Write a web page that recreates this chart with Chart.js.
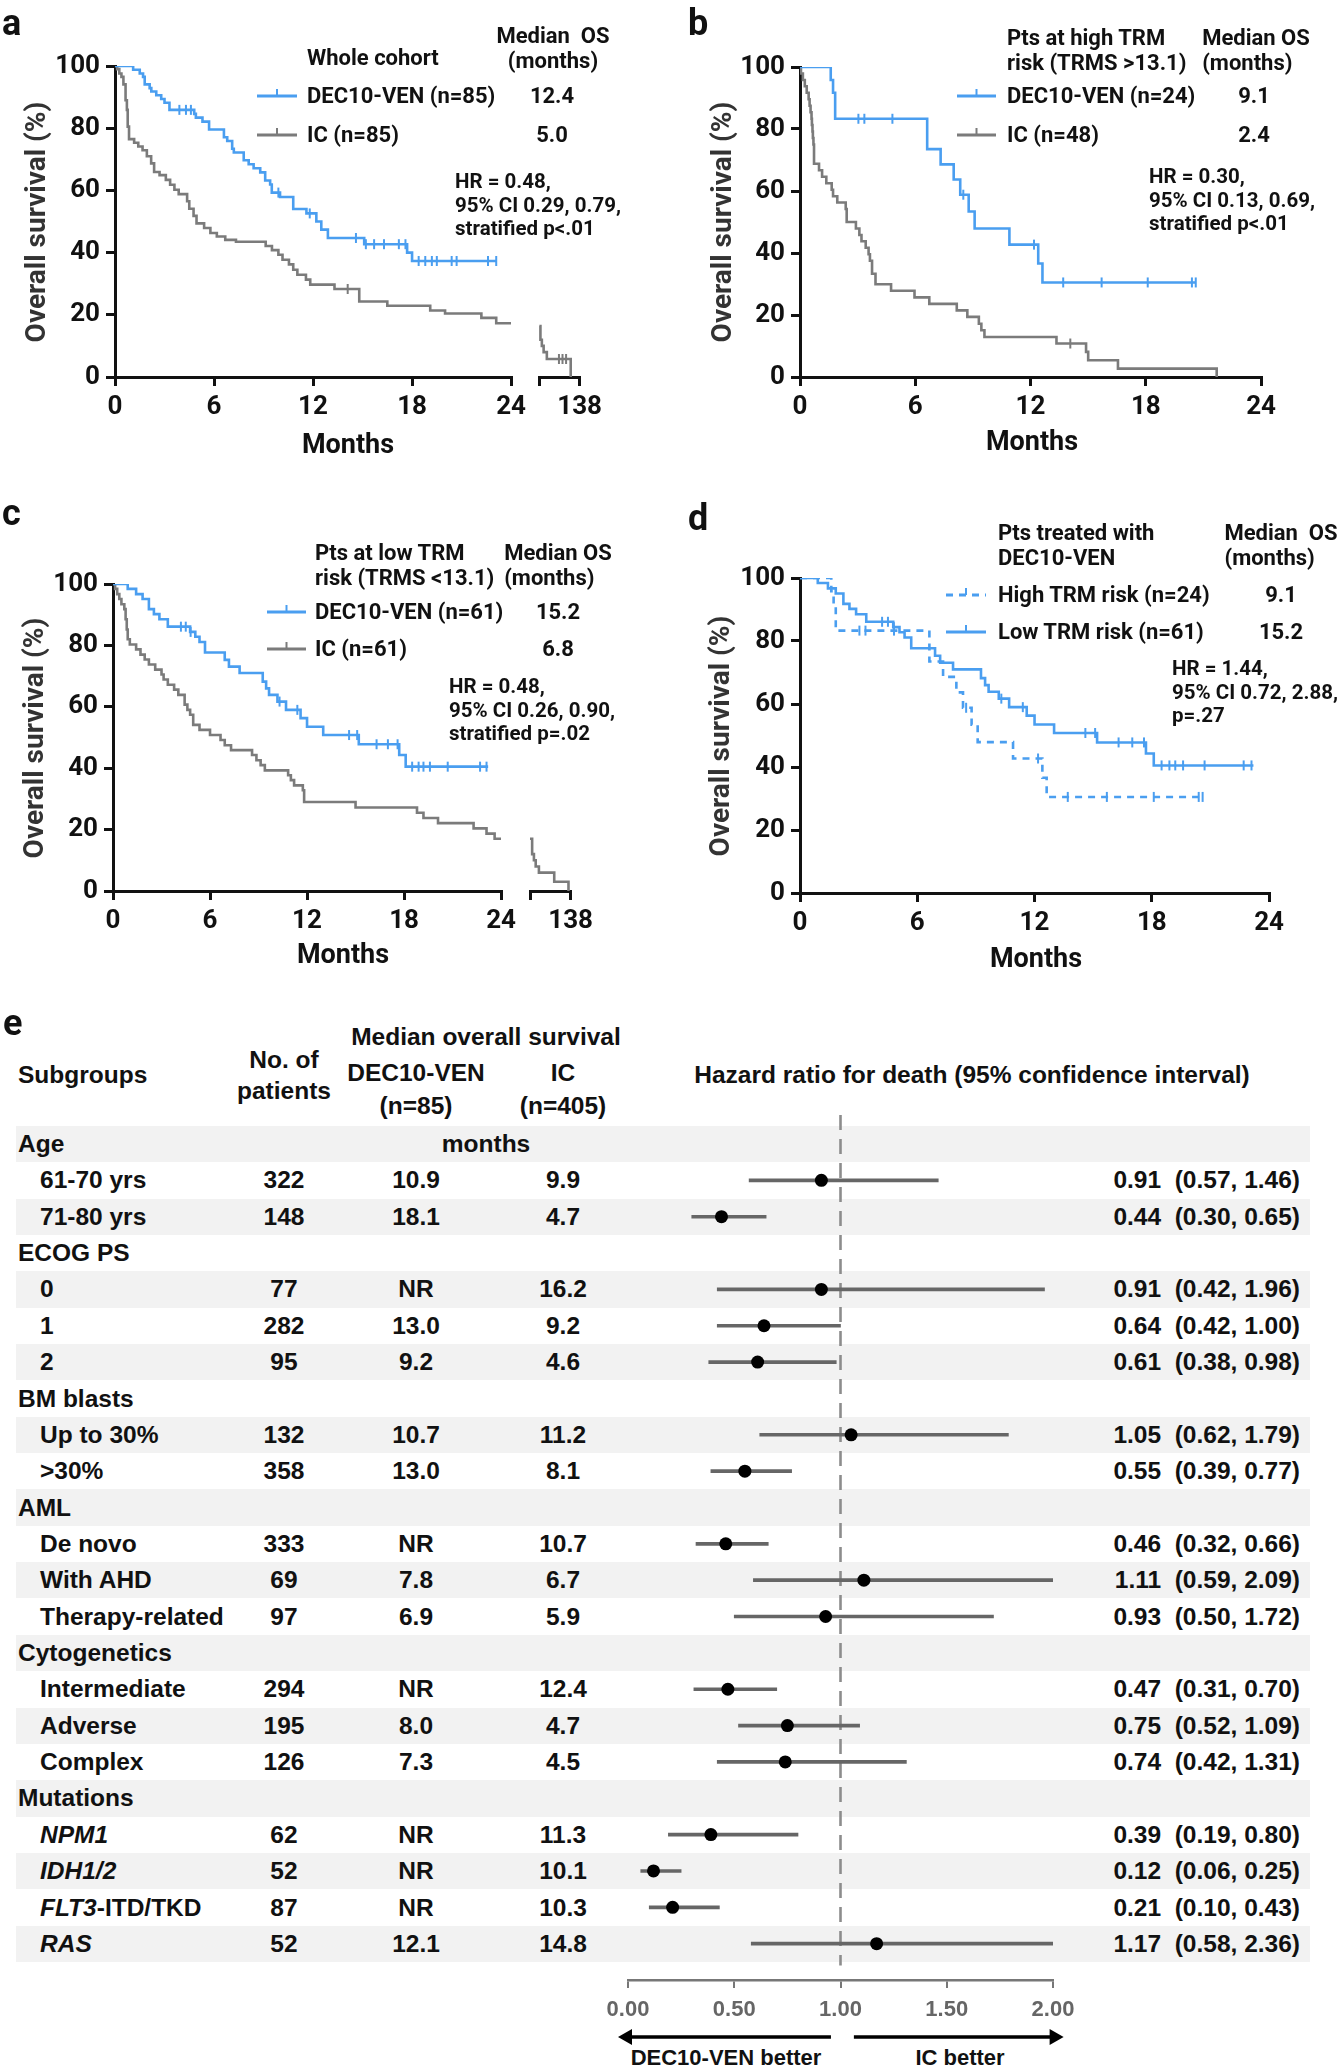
<!DOCTYPE html>
<html>
<head>
<meta charset="utf-8">
<title>DEC10-VEN vs IC survival</title>
<script src="https://cdn.jsdelivr.net/npm/chart.js@4.4.1/dist/chart.umd.min.js"></script>
<style>
  body { margin: 0; background: #fff; }
  #stage { position: relative; width: 1342px; height: 2070px; overflow: hidden; background: #fff;
           font-family: Roboto, "Liberation Sans", Arial, sans-serif; color: #111; }
  .t { position: absolute; white-space: pre; line-height: 1.15; }
  .lt { font-size: 36px; font-weight: 700; }
  .km { font-size: 22px; font-weight: 700; }
  .hr { font-size: 20.5px; font-weight: 700; }
  .mo { font-size: 27px; font-weight: 700; }
  .yt { font-size: 28px; font-weight: 700; color: #333; }
  .fp { font-family: "Liberation Sans", Arial, sans-serif; font-size: 24.5px; font-weight: 700; color: #111; }
  .ab { font-family: "Liberation Sans", Arial, sans-serif; font-size: 22px; font-weight: 700; color: #111; }
  canvas { position: absolute; }
</style>
</head>
<body>
<div id="stage"></div>
<script>
// ---- KM curves: [months, survival %]
const decAll = [[0,100],[1.1,98.8],[1.5,97.6],[1.7,96.5],[1.8,94.1],[2.1,92.9],[2.2,91.8],[2.5,90.6],[2.8,89.4],[3.0,88.2],[3.3,85.9],[4.8,84.6],[4.9,83.4],[5.3,82.1],[5.7,79.6],[6.6,77.1],[6.8,75.9],[7.1,73.4],[7.2,72.2],[7.8,69.7],[8.1,68.4],[8.4,67.1],[8.8,65.8],[9.1,63.2],[9.4,61.9],[9.5,59.3],[10.0,57.9],[10.8,54.0],[11.6,52.6],[12.2,50.0],[12.5,47.4],[12.9,44.7],[15.1,42.7],[17.7,40.0],[18.0,37.3],[23.1,37.3]];
const decAllCens = [3.9, 4.3, 4.6, 9.9, 11.8, 14.6, 15.2, 15.7, 16.3, 17.2, 17.6, 18.4, 18.8, 19.2, 19.5, 20.4, 20.7, 22.6, 23.1];
const icAll = [[0,100],[0.13,99],[0.26,97.6],[0.39,96.5],[0.51,94.1],[0.64,89],[0.72,85.9],[0.77,80.5],[0.85,76.5],[1.16,75.3],[1.41,74.1],[1.67,72.9],[1.93,71.0],[2.19,68.7],[2.37,65.9],[2.7,64.9],[3.08,63.4],[3.34,61.8],[3.6,60.2],[3.86,58.8],[4.37,56.5],[4.5,54.1],[4.76,51.8],[4.94,49.4],[5.4,47.9],[5.78,46.3],[6.17,45.2],[6.68,44.1],[7.33,43.5],[9.13,42.1],[9.51,40.8],[9.9,39.3],[10.15,37.7],[10.54,36.2],[10.8,34.5],[11.05,32.9],[11.57,31.3],[11.83,29.7],[13.3,28.3],[14.8,24.3],[16.5,22.9],[19.1,21.4],[20.0,20.4],[22.2,19.0],[23.1,17.3],[24,17.3]];
const icAllCens = [14.1];
const icAllTail = [[25,16.4],[28,12],[32,10],[37,8],[46,5.8],[113,0]];
const icAllTailCens = [80, 90, 100];

const decHigh = [[0,100],[1.6,95.8],[1.72,91.7],[1.83,83.3],[6.62,73.5],[7.32,68.6],[8.0,63.7],[8.34,58.8],[8.78,53.4],[9.09,47.9],[10.9,42.7],[12.4,36.6],[12.62,30.5],[20.6,30.5]];
const decHighCens = [3.04, 3.35, 4.81, 8.5, 12.18, 13.7, 15.7, 18.1, 20.4, 20.6];
const icHigh = [[0,100],[0.05,97.9],[0.15,95.8],[0.25,93.8],[0.35,91.7],[0.45,89.6],[0.5,87.5],[0.55,85.4],[0.6,83.3],[0.62,81.3],[0.65,79.2],[0.67,77.1],[0.7,75.0],[0.73,68.8],[0.99,66.7],[1.15,64.6],[1.37,62.5],[1.65,60.4],[1.72,58.3],[1.94,56.3],[2.38,54.2],[2.43,50.0],[2.91,47.9],[3.09,45.8],[3.2,43.8],[3.42,41.7],[3.57,39.6],[3.64,37.5],[3.75,33.3],[3.93,29.9],[4.74,27.8],[5.96,25.7],[6.73,23.6],[8.16,21.5],[8.71,19.4],[9.31,17.2],[9.44,15.1],[9.6,12.9],[13.35,10.8],[14.89,8.1],[15.0,5.4],[16.55,2.7],[21.69,0]];
const icHighCens = [14.07];

const decLow = [[0,100],[0.91,98.4],[1.43,96.7],[1.83,95.1],[2.22,91.8],[2.53,90.2],[2.87,88.5],[3.39,86.1],[4.77,84.4],[5.09,82.8],[5.35,81.1],[5.69,77.7],[6.91,75.3],[7.17,73.1],[7.83,71.0],[9.26,68.2],[9.47,66.0],[9.65,63.9],[10.17,61.7],[10.7,59.0],[11.6,56.3],[12.0,53.5],[13.0,50.8],[15.2,47.8],[17.7,44.3],[18.1,40.5],[23.2,40.5]];
const decLowCens = [4.2, 4.5, 4.8, 10.3, 11.4, 14.6, 15.1, 16.3, 17.0, 17.6, 18.5, 18.9, 19.2, 19.6, 20.7, 22.7, 23.1];
const icLow = [[0,100],[0.13,98.4],[0.26,96.7],[0.39,95.1],[0.52,93.4],[0.7,91.8],[0.78,88.5],[0.85,85.2],[0.91,82.0],[1.04,80.3],[1.43,78.7],[1.7,77.0],[1.96,75.4],[2.22,73.8],[2.61,72.1],[3.0,70.5],[3.13,68.9],[3.39,67.2],[3.78,65.6],[4.04,63.9],[4.43,60.7],[4.6,59.0],[4.77,57.4],[4.96,54.1],[5.35,52.5],[6.0,50.8],[6.65,49.2],[6.91,47.5],[7.3,45.9],[8.6,44.3],[8.87,42.6],[9.13,41.0],[9.39,39.3],[10.83,37.7],[11.0,36.1],[11.2,34.4],[11.74,32.8],[11.82,29.0],[15.0,27.2],[18.8,25.5],[19.2,23.8],[20.1,22.1],[22.3,20.4],[23.1,18.7],[23.6,17.0],[24,17.0]];
const icLowTail = [[24,17],[30,12],[35,10],[40,8],[49,6],[92,3],[132,0]];

const xTicks = [0, 6, 12, 18, 24];
const tailTicks = [24, 138];
const yTicks = [0, 20, 40, 60, 80, 100];

// ---- forest plot (panel e)
const subgroups = ['Age','61-70 yrs','71-80 yrs','ECOG PS','0','1','2','BM blasts','Up to 30%','>30%','AML','De novo','With AHD','Therapy-related','Cytogenetics','Intermediate','Adverse','Complex','Mutations','<i>NPM1</i>','<i>IDH1/2</i>','<i>FLT3</i>-ITD/TKD','<i>RAS</i>'];
const patients = [null,322,148,null,77,282,95,null,132,358,null,333,69,97,null,294,195,126,null,62,52,87,52];
const medDec = [null,'10.9','18.1',null,'NR','13.0','9.2',null,'10.7','13.0',null,'NR','7.8','6.9',null,'NR','8.0','7.3',null,'NR','NR','NR','12.1'];
const medIc = [null,'9.9','4.7',null,'16.2','9.2','4.6',null,'11.2','8.1',null,'10.7','6.7','5.9',null,'12.4','4.7','4.5',null,'11.3','10.1','10.3','14.8'];
const hr = [null,0.91,0.44,null,0.91,0.64,0.61,null,1.05,0.55,null,0.46,1.11,0.93,null,0.47,0.75,0.74,null,0.39,0.12,0.21,1.17];
const ciLow = [null,0.57,0.30,null,0.42,0.42,0.38,null,0.62,0.39,null,0.32,0.59,0.50,null,0.31,0.52,0.42,null,0.19,0.06,0.10,0.58];
const ciHigh = [null,1.46,0.65,null,1.96,1.00,0.98,null,1.79,0.77,null,0.66,2.09,1.72,null,0.70,1.09,1.31,null,0.80,0.25,0.43,2.36];
const hrTicks = [0, 0.5, 1, 1.5, 2];

const BLUE = '#4a9ef0', GRAY = '#7b7b7b';
const stage = document.getElementById('stage');

function txt(html, x, y, cls, align) {
  const d = document.createElement('div');
  d.className = 't ' + cls;
  d.innerHTML = html;
  d.style.left = x + 'px';
  d.style.top = y + 'px';
  const tx = align === 'center' ? '-50%' : align === 'right' ? '-100%' : '0';
  d.style.transform = 'translate(' + tx + ',-50%)';
  stage.appendChild(d);
}
function ytitle(x, y) {
  const d = document.createElement('div');
  d.className = 't yt';
  d.textContent = 'Overall survival (%)';
  d.style.left = x + 'px';
  d.style.top = y + 'px';
  d.style.transform = 'translate(-50%,-50%) rotate(-90deg)';
  stage.appendChild(d);
}
function sample(x1, x2, y, color, dash) {
  const w = x2 - x1;
  stage.insertAdjacentHTML('beforeend',
    '<svg width="' + w + '" height="20" style="position:absolute;left:' + x1 + 'px;top:' + (y - 10) + 'px;overflow:visible">' +
    '<line x1="0" y1="10" x2="' + w + '" y2="10" stroke="' + color + '" stroke-width="3"' + (dash ? ' stroke-dasharray="7,6"' : '') + '/>' +
    '<line x1="' + (w / 2) + '" y1="3" x2="' + (w / 2) + '" y2="10" stroke="' + color + '" stroke-width="2"/></svg>');
}
function makeCanvas(left, top, w, h) {
  const c = document.createElement('canvas');
  c.width = w; c.height = h;
  c.style.left = left + 'px'; c.style.top = top + 'px';
  c.style.width = w + 'px'; c.style.height = h + 'px';
  stage.appendChild(c);
  return c;
}
// survival level of a step curve at time t
function survAt(pts, t) {
  let s = pts[0][1];
  pts.forEach(p => { if (p[0] <= t) s = p[1]; });
  return s;
}

Chart.defaults.font.family = 'Roboto, "Liberation Sans", Arial, sans-serif';

function km(g) {
  const cv = makeCanvas(g.cl, g.ct, g.cw, g.ch);
  const ds = [];
  g.curves.forEach(c => {
    ds.push({ data: c.pts.map(p => ({ x: p[0], y: p[1] })), borderColor: c.color, borderWidth: 2.6,
              borderDash: c.dash || [], stepped: 'before', pointRadius: 0, fill: false, order: 2 });
    if (c.cens) ds.push({ data: c.cens.map(t => ({ x: t, y: survAt(c.pts, t) })), showLine: false,
              pointStyle: 'line', pointRotation: 90, pointRadius: 5, pointBorderColor: c.color,
              pointBorderWidth: 2, borderColor: c.color, order: 1 });
  });
  const axisCommon = {
    grid: { drawOnChartArea: false, tickLength: 9, lineWidth: 3, color: '#111' },
    border: { color: '#111', width: 3 }
  };
  return new Chart(cv, {
    type: 'line',
    data: { datasets: ds },
    options: {
      responsive: false, animation: false, devicePixelRatio: 1,
      layout: { padding: { left: g.pl || 0, top: g.pt, right: g.pr, bottom: 0 } },
      plugins: { legend: { display: false }, tooltip: { enabled: false } },
      scales: {
        x: Object.assign({
          type: 'linear', min: g.xmin, max: g.xmax,
          afterBuildTicks: s => { s.ticks = g.xticks.map(v => ({ value: v })); },
          afterFit: s => { s.height = g.xh; },
          ticks: { autoSkip: false, maxRotation: 0, padding: 6, color: '#111', font: { size: 26, weight: 'bold' },
                   callback: v => (g.xlabel ? g.xlabel(v) : String(v)) }
        }, axisCommon),
        y: Object.assign({
          type: 'linear', display: g.yaxis, min: 0, max: 100,
          afterBuildTicks: s => { s.ticks = yTicks.map(v => ({ value: v })); },
          afterFit: s => { if (g.yaxis) s.width = g.yw; },
          ticks: { padding: 6, color: '#111', font: { size: 26, weight: 'bold' } }
        }, axisCommon)
      }
    }
  });
}
const tailLabel = v => (v === 138 ? '138' : '');

// ---- panel a
km({ cl: 0, ct: 40, cw: 532, ch: 390, pt: 26, pr: 18, yw: 115, xh: 53, yaxis: true, xmin: 0, xmax: 24, xticks: xTicks,
     curves: [{ pts: decAll, cens: decAllCens, color: BLUE }, { pts: icAll, cens: icAllCens, color: GRAY }] });
km({ cl: 532, ct: 40, cw: 76, ch: 390, pt: 26, pl: 5, pr: 26, xh: 53, yaxis: false, xmin: 24, xmax: 138, xticks: tailTicks, xlabel: tailLabel,
     curves: [{ pts: icAllTail, cens: icAllTailCens, color: GRAY }] });
// ---- panel b
km({ cl: 690, ct: 40, cw: 592, ch: 390, pt: 27, pr: 18, yw: 110, xh: 53, yaxis: true, xmin: 0, xmax: 24, xticks: xTicks,
     curves: [{ pts: decHigh, cens: decHighCens, color: BLUE }, { pts: icHigh, cens: icHighCens, color: GRAY }] });
// ---- panel c
km({ cl: 0, ct: 555, cw: 522, ch: 390, pt: 29, pr: 15, yw: 113, xh: 54, yaxis: true, xmin: 0, xmax: 24, xticks: xTicks,
     curves: [{ pts: decLow, cens: decLowCens, color: BLUE }, { pts: icLow, color: GRAY }] });
km({ cl: 522, ct: 555, cw: 77, ch: 390, pt: 29, pl: 8, pr: 26, xh: 54, yaxis: false, xmin: 24, xmax: 138, xticks: tailTicks, xlabel: tailLabel,
     curves: [{ pts: icLowTail, color: GRAY }] });
// ---- panel d
km({ cl: 690, ct: 555, cw: 600, ch: 390, pt: 23, pr: 19, yw: 110, xh: 52, yaxis: true, xmin: 0, xmax: 24, xticks: xTicks,
     curves: [{ pts: decHigh, cens: decHighCens, color: BLUE, dash: [7, 6] }, { pts: decLow, cens: decLowCens, color: BLUE }] });

// KM texts
txt('a', 2, 24, 'lt'); txt('b', 688, 24, 'lt'); txt('c', 2, 514, 'lt'); txt('d', 688, 519, 'lt');
ytitle(36, 222); ytitle(722, 222); ytitle(34, 738); ytitle(720, 736);
txt('Months', 348, 445, 'mo', 'center'); txt('Months', 1032, 442, 'mo', 'center');
txt('Months', 343, 955, 'mo', 'center'); txt('Months', 1036, 959, 'mo', 'center');

txt('Whole cohort', 307, 58, 'km'); txt('Median  OS', 553, 36, 'km', 'center'); txt('(months)', 553, 61, 'km', 'center');
sample(257, 297, 96, BLUE); txt('DEC10-VEN (n=85)', 307, 96, 'km'); txt('12.4', 552, 96, 'km', 'center');
sample(257, 297, 135, GRAY); txt('IC (n=85)', 307, 135, 'km'); txt('5.0', 552, 135, 'km', 'center');
txt('HR = 0.48,\n95% CI 0.29, 0.79,\nstratified p<.01', 538, 205, 'hr', 'center');

txt('Pts at high TRM\nrisk (TRMS >13.1)', 1007, 50, 'km'); txt('Median OS\n(months)', 1256, 50, 'km', 'center');
sample(957, 996, 96, BLUE); txt('DEC10-VEN (n=24)', 1007, 96, 'km'); txt('9.1', 1254, 96, 'km', 'center');
sample(957, 996, 135, GRAY); txt('IC (n=48)', 1007, 135, 'km'); txt('2.4', 1254, 135, 'km', 'center');
txt('HR = 0.30,\n95% CI 0.13, 0.69,\nstratified p<.01', 1232, 200, 'hr', 'center');

txt('Pts at low TRM\nrisk (TRMS <13.1)', 315, 565, 'km'); txt('Median OS\n(months)', 558, 565, 'km', 'center');
sample(267, 306, 612, BLUE); txt('DEC10-VEN (n=61)', 315, 612, 'km'); txt('15.2', 558, 612, 'km', 'center');
sample(267, 306, 649, GRAY); txt('IC (n=61)', 315, 649, 'km'); txt('6.8', 558, 649, 'km', 'center');
txt('HR = 0.48,\n95% CI 0.26, 0.90,\nstratified p=.02', 532, 710, 'hr', 'center');

txt('Pts treated with\nDEC10-VEN', 998, 545, 'km'); txt('Median  OS\n(months)', 1281, 545, 'km', 'center');
sample(946, 986, 595, BLUE, true); txt('High TRM risk (n=24)', 998, 595, 'km'); txt('9.1', 1281, 595, 'km', 'center');
sample(946, 986, 632, BLUE); txt('Low TRM risk (n=61)', 998, 632, 'km'); txt('15.2', 1281, 632, 'km', 'center');
txt('HR = 1.44,\n95% CI 0.72, 2.88,\np=.27', 1255, 692, 'hr', 'center');

// ---- panel e: table
const ROW0 = 1144, ROWH = 36.36;
const rowY = i => ROW0 + i * ROWH;
subgroups.forEach((s, i) => {
  if (i % 2 === 0) {
    const b = document.createElement('div');
    b.style.cssText = 'position:absolute;left:16px;width:1294px;background:#f2f2f2;top:' + (rowY(i) - ROWH / 2) + 'px;height:' + ROWH + 'px';
    stage.appendChild(b);
  }
});
txt('e', 3, 1024, 'lt');
txt('Subgroups', 18, 1075, 'fp');
txt('No. of', 284, 1060, 'fp', 'center'); txt('patients', 284, 1091, 'fp', 'center');
txt('Median overall survival', 486, 1037, 'fp', 'center');
txt('DEC10-VEN', 416, 1073, 'fp', 'center'); txt('(n=85)', 416, 1106, 'fp', 'center');
txt('IC', 563, 1073, 'fp', 'center'); txt('(n=405)', 563, 1106, 'fp', 'center');
txt('Hazard ratio for death (95% confidence interval)', 972, 1075, 'fp', 'center');
txt('months', 486, rowY(0), 'fp', 'center');
subgroups.forEach((s, i) => {
  const y = rowY(i);
  if (patients[i] === null) { txt(s, 18, y, 'fp'); return; }
  txt(s, 40, y, 'fp');
  txt(String(patients[i]), 284, y, 'fp', 'center');
  txt(medDec[i], 416, y, 'fp', 'center');
  txt(medIc[i], 563, y, 'fp', 'center');
  txt(hr[i].toFixed(2) + '  (' + ciLow[i].toFixed(2) + ', ' + ciHigh[i].toFixed(2) + ')', 1300, y, 'fp', 'right');
});
txt('DEC10-VEN better', 726, 2058, 'ab', 'center');
txt('IC better', 960, 2058, 'ab', 'center');

// ---- panel e: forest chart
const ciData = [], hrData = [];
hr.forEach((v, i) => {
  if (v === null) return;
  ciData.push({ y: i, x: [ciLow[i], ciHigh[i]] });
  hrData.push({ y: i, x: v });
});
function arrow(ctx, x1, x2, y) {
  const dir = Math.sign(x2 - x1);
  ctx.save();
  ctx.strokeStyle = '#000'; ctx.fillStyle = '#000'; ctx.lineWidth = 3.5;
  ctx.beginPath(); ctx.moveTo(x1, y); ctx.lineTo(x2 - dir * 8, y); ctx.stroke();
  ctx.beginPath(); ctx.moveTo(x2, y); ctx.lineTo(x2 - dir * 14, y - 8); ctx.lineTo(x2 - dir * 14, y + 8); ctx.closePath(); ctx.fill();
  ctx.restore();
}
const arrowPlugin = {
  id: 'betterArrows',
  afterDraw(chart) {
    const x = chart.scales.x, y = chart.chartArea.bottom + 57;
    arrow(chart.ctx, x.getPixelForValue(0.955), x.getPixelForValue(-0.047), y);
    arrow(chart.ctx, x.getPixelForValue(1.063), x.getPixelForValue(2.05), y);
  }
};
new Chart(makeCanvas(560, 1100, 560, 970), {
  type: 'bar',
  data: {
    datasets: [
      { type: 'line', data: [{ x: 1, y: -0.8 }, { x: 1, y: 22.6 }], borderColor: '#8c8c8c', borderWidth: 2.6, borderDash: [15, 9], pointRadius: 0, order: 3 },
      { type: 'bar', data: ciData, backgroundColor: '#666', barThickness: 3, order: 2 },
      { type: 'line', data: hrData, showLine: false, pointRadius: 6.5, pointBackgroundColor: '#000', pointBorderColor: '#000', pointBorderWidth: 0, order: 1 }
    ]
  },
  options: {
    indexAxis: 'y', responsive: false, animation: false, devicePixelRatio: 1,
    layout: { padding: { left: 68, right: 67, top: 11.3, bottom: 30 } },
    plugins: { legend: { display: false }, tooltip: { enabled: false } },
    scales: {
      x: {
        type: 'linear', min: 0, max: 2,
        afterBuildTicks: s => { s.ticks = hrTicks.map(v => ({ value: v })); },
        afterFit: s => { s.height = 60; },
        ticks: { padding: 9, color: '#666', font: { family: '"Liberation Sans", Arial, sans-serif', size: 22, weight: 'bold' }, callback: v => v.toFixed(2) },
        grid: { drawOnChartArea: false, tickLength: 8, lineWidth: 2, color: '#777' },
        border: { color: '#777', width: 2.5 }
      },
      y: { type: 'linear', display: false, reverse: true, offset: false, min: -0.9, max: 23.0 }
    }
  },
  plugins: [arrowPlugin]
});
</script>
</body>
</html>
